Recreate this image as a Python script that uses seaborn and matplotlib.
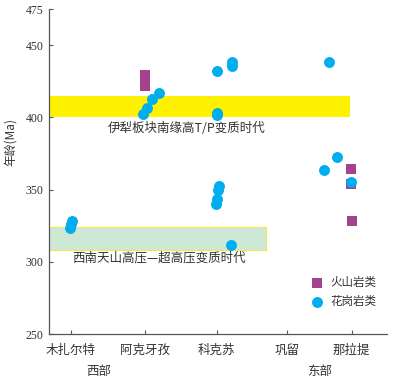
import pandas as pd
import matplotlib.pyplot as plt
import seaborn as sns

# site positions along the profile (west -> east) and their labels
site_pos = [0, 74, 146, 216, 281]
site_names = ['木扎尔特', '阿克牙孜', '科克苏', '巩留', '那拉提']

# volcanic rocks (x along profile, age Ma)
volc_x = [74, 74, 74, 280, 280, 281]
volc_age = [429.5, 425, 421.5, 364.5, 353.9, 328]

# granites
gran_x = [1, 0, -1,
          72.6, 76, 81.6, 88.3,
          146, 161.6, 161.3, 146, 146, 148.3, 147.3, 146.3, 145.3, 160,
          258.3, 266.3, 253.6, 280.3]
gran_age = [328.6, 325.9, 323.1,
            402.2, 406.8, 412.5, 416.7,
            432, 438.5, 435.5, 403.3, 401.5, 352.8, 349.5, 343.8, 339.7, 311.6,
            438.5, 372.3, 363.3, 355]

volc = pd.DataFrame({'x': volc_x, 'age': volc_age, '类型': '火山岩类'})
gran = pd.DataFrame({'x': gran_x, 'age': gran_age, '类型': '花岗岩类'})

sns.set_style('ticks')
plt.rcParams['font.family'] = ['Noto Sans CJK SC', 'DejaVu Sans']

fig = plt.figure(figsize=(3.95, 3.8), dpi=100)
ax = fig.add_axes([0.124, 0.121, 0.855, 0.855])

xmin, xmax = -21.7, 316
# metamorphic age bands
ax.fill_between([xmin, 279.3], 400, 415, color='#FFF200', lw=0, zorder=1)
ax.fill_between([xmin, 195], 308, 324, facecolor='#CDE8D5', edgecolor='#F2E84A', lw=0.8, zorder=1)
ax.text(37.3, 392, '伊犁板块南缘高T/P变质时代', fontsize=9, color='#333333', va='center')
ax.text(1.3, 302.4, '西南天山高压—超高压变质时代', fontsize=9, color='#333333', va='center')

sns.scatterplot(data=volc, x='x', y='age', marker='s', s=48, color='#A4428C',
                linewidth=0, label='火山岩类', ax=ax, zorder=3)
sns.scatterplot(data=gran, x='x', y='age', marker='o', s=62, color='#00AEEF',
                linewidth=0, label='花岗岩类', ax=ax, zorder=3)

ax.set_xlim(xmin, xmax)
ax.set_ylim(250, 475)
ax.set_xticks(site_pos)
ax.set_xticklabels(site_names, fontsize=9, color='#333333')
ax.set_yticks([250, 300, 350, 400, 450, 475])
ax.set_yticklabels(['250', '300', '350', '400', '450', '475'],
                   fontsize=8.5, color='#333333', family='Liberation Serif')
ax.tick_params(direction='in', length=3, width=0.8, color='#555555')
ax.tick_params(axis='x', pad=7)
ax.tick_params(axis='y', pad=4)
ax.set_xlabel('')
ax.set_ylabel('年龄(Ma)', fontsize=8.5, color='#333333')
ax.yaxis.set_label_coords(-0.095, 0.59)
sns.despine(ax=ax)
for s in ['left', 'bottom']:
    ax.spines[s].set_color('#555555')
    ax.spines[s].set_linewidth(0.9)

tr = ax.get_xaxis_transform()
ax.text(27.6, -0.116, '西部', transform=tr, fontsize=9, color='#333333', ha='center', va='center')
ax.text(249.3, -0.116, '东部', transform=tr, fontsize=9, color='#333333', ha='center', va='center')

ax.legend(loc='center left', bbox_to_anchor=(0.778, 0.13), frameon=False,
          fontsize=8.3, handlelength=1, borderpad=0, borderaxespad=0,
          handletextpad=0.6, labelspacing=0.5, labelcolor='#333333')

fig.savefig('out.png', dpi=100)
